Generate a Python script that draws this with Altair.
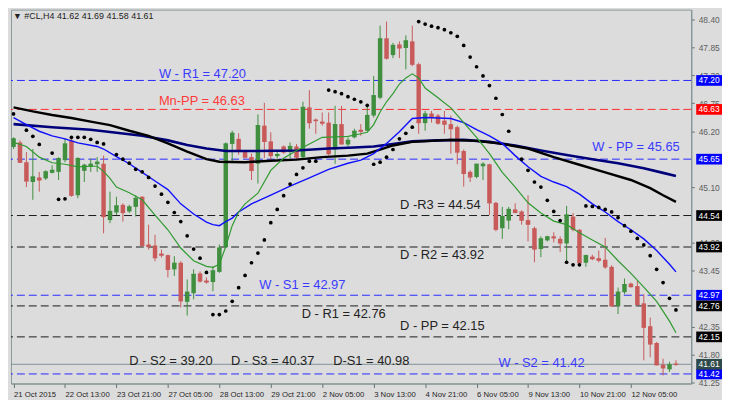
import altair as alt
import pandas as pd

# ---------------- data ----------------
opens = [45.89, 45.98, 45.59, 45.20, 45.29, 45.27, 45.38, 45.40, 45.63, 46.02,
         44.94, 45.42, 45.50, 45.55, 45.56, 44.45, 44.60, 44.75, 44.62, 44.71,
         44.91, 43.97, 43.95, 43.79, 43.76, 43.48, 43.61, 42.84, 43.01, 43.40,
         43.26, 43.23, 43.43, 43.92, 45.95, 46.05, 45.79, 45.69, 45.56, 46.31,
         46.00, 45.71, 45.90, 45.79, 45.90, 45.69, 46.67, 46.43, 46.39, 46.37,
         45.84, 46.34, 45.94, 46.08, 46.23, 46.21, 46.51, 46.86, 48.03, 47.70,
         47.91, 47.84, 47.97, 47.52, 46.36, 46.55, 46.51, 46.41, 46.34, 46.28,
         45.81, 45.40, 45.30, 45.51, 45.55, 44.79, 44.29, 44.44, 44.66, 44.62,
         44.45, 44.29, 43.88, 44.05, 44.13, 44.08, 43.99, 44.52, 44.26, 43.61,
         43.73, 43.70, 43.67, 43.53, 42.76, 43.03, 43.20, 43.15, 42.81, 42.36,
         42.03, 41.60, 41.51, 41.62]
highs = [46.08, 46.02, 45.79, 45.85, 45.40, 45.43, 45.53, 45.69, 46.06, 46.05,
         45.69, 45.56, 45.66, 45.69, 45.72, 45.01, 44.91, 44.78, 44.75, 44.94,
         44.92, 44.36, 44.16, 43.87, 43.77, 43.74, 43.64, 43.28, 43.48, 43.44,
         43.32, 43.54, 43.97, 45.98, 46.21, 46.16, 45.82, 45.76, 46.53, 46.76,
         46.18, 45.82, 45.92, 45.98, 45.95, 46.78, 47.01, 46.45, 46.57, 46.57,
         46.70, 46.70, 46.08, 46.25, 46.34, 46.73, 47.29, 48.28, 48.36, 47.94,
         47.97, 48.09, 48.28, 47.55, 46.60, 46.60, 46.54, 46.60, 46.51, 46.31,
         45.84, 45.43, 45.56, 45.59, 45.56, 44.81, 44.71, 44.71, 44.78, 44.64,
         44.94, 44.32, 44.13, 44.14, 44.21, 44.13, 44.73, 44.59, 44.27, 43.77,
         43.77, 43.85, 44.10, 43.56, 43.12, 43.30, 43.22, 43.25, 42.99, 42.53,
         42.05, 41.72, 41.66, 41.69]
lows = [45.85, 45.58, 45.10, 44.85, 45.01, 45.24, 45.37, 45.24, 45.59, 44.91,
        44.88, 45.20, 45.40, 45.40, 44.19, 44.39, 44.55, 44.42, 44.59, 44.52,
        43.93, 43.87, 43.64, 43.71, 43.32, 43.35, 42.73, 42.57, 42.89, 43.22,
        43.20, 43.05, 43.41, 43.90, 45.57, 45.74, 45.66, 45.24, 45.17, 45.67,
        45.63, 45.66, 45.76, 45.66, 45.63, 45.66, 46.25, 46.15, 46.31, 45.72,
        45.56, 45.94, 45.90, 46.06, 46.11, 46.20, 46.47, 46.83, 47.61, 47.64,
        47.64, 47.42, 47.48, 46.15, 46.21, 46.37, 46.33, 46.15, 45.76, 45.55,
        45.11, 45.20, 45.27, 45.24, 44.55, 44.23, 44.08, 44.27, 44.59, 44.36,
        44.03, 43.62, 43.72, 44.03, 44.01, 43.82, 43.60, 44.23, 43.57, 43.53,
        43.66, 43.62, 43.49, 42.75, 42.60, 42.99, 43.12, 42.77, 41.69, 41.75,
        41.59, 41.39, 41.46, 41.58]
closes = [46.05, 45.59, 45.22, 45.30, 45.24, 45.40, 45.43, 45.66, 45.95, 44.94,
          45.66, 45.53, 45.55, 45.59, 44.52, 44.62, 44.73, 44.60, 44.71, 44.88,
          43.95, 43.93, 43.71, 43.76, 43.48, 43.60, 42.86, 43.03, 43.38, 43.25,
          43.23, 43.45, 43.90, 45.95, 46.16, 45.82, 45.69, 45.43, 46.31, 46.00,
          45.72, 45.74, 45.79, 45.90, 45.69, 46.67, 46.37, 46.41, 46.36, 45.76,
          46.33, 45.95, 46.02, 46.20, 46.20, 46.51, 46.90, 48.02, 47.64, 47.89,
          47.84, 47.98, 47.52, 46.37, 46.54, 46.49, 46.36, 46.34, 46.25, 45.79,
          45.37, 45.30, 45.55, 45.55, 44.79, 44.27, 44.52, 44.66, 44.60, 44.45,
          44.37, 43.88, 44.08, 44.12, 44.10, 44.00, 44.55, 44.27, 43.61, 43.75,
          43.69, 43.66, 43.53, 42.76, 43.03, 43.18, 43.14, 42.79, 42.34, 42.01,
          41.60, 41.54, 41.60, 41.61]

sar_idx = [0, 2, 3, 4, 6, 7, 8, 9, 10, 11, 12, 13, 14, 16, 17, 18, 19, 20, 21, 22,
           23, 24, 25, 26, 27, 28, 29, 30, 31, 32, 33, 34, 35, 36, 37, 38, 39, 40,
           41, 42, 43, 44, 45, 46, 47, 49, 50, 51, 52, 53, 54, 55, 56, 57, 58, 59,
           60, 61, 62, 63, 64, 65, 66, 67, 68, 69, 70, 71, 72, 73, 74, 75, 76, 77,
           79, 80, 81, 82, 83, 84, 85, 86, 87, 88, 89, 90, 91, 92, 93, 94, 95, 96,
           97, 98, 99, 100, 101, 102, 103]
sar_val = [46.54, 46.22, 46.10, 45.94, 45.77, 44.86, 44.87, 46.08, 46.08, 46.08,
           46.04, 45.98, 45.95, 45.74, 45.65, 45.57, 45.45, 45.40, 45.29, 45.12,
           44.96, 44.80, 44.60, 44.42, 44.14, 43.88, 43.70, 43.42, 42.59, 42.59,
           42.66, 42.85, 43.12, 43.36, 43.61, 43.80, 44.06, 44.40, 44.66, 44.93,
           45.16, 45.35, 45.48, 45.61, 45.61, 47.01, 46.98, 46.94, 46.88, 46.83,
           46.78, 46.71, 45.55, 45.59, 45.69, 45.84, 46.05, 46.16, 46.28, 48.36,
           48.31, 48.27, 48.24, 48.20, 48.14, 48.07, 47.89, 47.66, 47.47, 47.29,
           47.10, 46.85, 46.53, 46.20, 45.65, 45.43, 45.20, 45.10, 44.84, 44.62,
           44.44, 43.62, 43.57, 43.57, 44.73, 44.72, 44.70, 44.66, 44.61, 44.50,
           44.34, 44.23, 44.09, 43.96, 43.75, 43.48, 43.22, 42.91, 42.68]

green_idx = [0, 2, 4, 6, 8, 10, 12, 13, 14, 15, 16, 18, 19, 20, 22, 24, 26, 28, 30,
             31, 32, 33, 34, 35, 36, 38, 40, 42, 44, 46, 48, 50, 52, 54, 55, 56, 57,
             58, 59, 60, 61, 62, 63, 64, 66, 68, 70, 72, 74, 76, 78, 80, 82, 84, 86,
             88, 90, 92, 94, 96, 98, 100, 102, 103]
green_val = [45.98, 45.90, 45.69, 45.58, 45.55, 45.50, 45.51, 45.51, 45.41, 45.27,
             45.10, 44.99, 44.92, 44.85, 44.55, 44.26, 43.90, 43.65, 43.54, 43.52,
             43.58, 43.93, 44.34, 44.61, 44.77, 44.98, 45.43, 45.67, 45.82, 45.95,
             46.08, 46.09, 46.10, 46.15, 46.18, 46.33, 46.58, 46.78, 46.94, 47.13,
             47.25, 47.33, 47.25, 47.05, 46.86, 46.66, 46.37, 46.08, 45.76, 45.39,
             45.10, 44.79, 44.59, 44.43, 44.36, 44.20, 44.06, 43.92, 43.65, 43.40,
             43.13, 42.85, 42.46, 42.23]

blue_idx = [0, 2, 4, 6, 8, 10, 13, 14, 16, 18, 20, 22, 24, 26, 28, 30, 31, 32, 33,
            34, 35, 37, 40, 43, 46, 49, 52, 54, 56, 58, 60, 62, 64, 66, 68, 70, 72,
            74, 76, 78, 80, 82, 84, 86, 88, 90, 92, 94, 96, 98, 100, 102, 103]
blue_val = [46.47, 46.33, 46.20, 46.11, 46.05, 45.97, 45.90, 45.85, 45.70, 45.56,
            45.39, 45.22, 45.05, 44.77, 44.57, 44.41, 44.36, 44.34, 44.42, 44.49,
            44.61, 44.77, 44.94, 45.12, 45.28, 45.45, 45.57, 45.63, 45.76, 45.96,
            46.19, 46.45, 46.47, 46.46, 46.45, 46.37, 46.23, 46.11, 45.96, 45.72,
            45.50, 45.31, 45.20, 45.11, 44.96, 44.77, 44.61, 44.42, 44.26, 44.08,
            43.85, 43.58, 43.43]

black_idx = [0, 3, 6, 9, 12, 15, 18, 21, 24, 27, 30, 32, 36, 40, 44, 48, 52, 55,
             57, 59, 62, 65, 68, 72, 76, 80, 84, 88, 92, 96, 99, 101, 103]
black_val = [46.67, 46.59, 46.52, 46.46, 46.39, 46.32, 46.21, 46.11, 45.96, 45.80,
             45.65, 45.60, 45.59, 45.62, 45.64, 45.69, 45.72, 45.76, 45.84, 45.92,
             45.99, 46.01, 46.03, 46.01, 45.95, 45.86, 45.69, 45.54, 45.39, 45.24,
             45.08, 44.94, 44.81]

navy_idx = [0, 6, 12, 16, 20, 24, 27, 30, 33, 38, 44, 49, 53, 56, 59, 62, 66, 70,
            74, 78, 82, 86, 90, 94, 98, 101, 103]
navy_val = [46.34, 46.28, 46.23, 46.17, 46.11, 46.02, 45.93, 45.86, 45.81, 45.81,
            45.82, 45.86, 45.88, 45.90, 45.95, 46.00, 46.02, 46.03, 45.99, 45.92,
            45.82, 45.73, 45.65, 45.57, 45.47, 45.38, 45.32]

level_vals = [47.20, 46.63, 45.65, 44.54, 43.92, 42.97, 42.76, 42.15, 41.42]
level_colors = ["#2828ff", "#ff2a2a", "#2828ff", "#1a1a1a", "#1a1a1a",
                "#2828ff", "#1a1a1a", "#1a1a1a", "#2828ff"]
box_colors = ["#0000ff", "#ff0000", "#0000ff", "#000000", "#000000",
              "#0000ff", "#000000", "#000000", "#0000ff"]
last_price = 41.61

ann_text = ["W - R1 = 47.20", "Mn-PP = 46.63", "W - PP = 45.65", "D -R3 = 44.54",
            "D - R2 = 43.92", "W - S1 = 42.97", "D - R1 = 42.76", "D - PP = 42.15",
            "D - S2 = 39.20", "D - S3 = 40.37", "D-S1 = 40.98", "W - S2 = 41.42"]
ann_idx = [22.6, 22.6, 90.0, 60.1, 60.1, 38.2, 44.8, 60.1, 18.0, 33.8, 49.7, 75.4]
ann_price = [47.25, 46.72, 45.81, 44.66, 43.69, 43.10, 42.53, 42.29, 41.60, 41.60,
             41.60, 41.55]
ann_colors = ["#3a3aff", "#ff3a3a", "#3a3aff", "#222222", "#222222", "#3a3aff",
              "#222222", "#222222", "#222222", "#222222", "#222222", "#3a3aff"]

x_tick_idx = [0, 8, 16, 24, 32, 40, 48, 56, 64, 72, 80, 88, 96]
x_tick_labels = ["21 Oct 2015", "22 Oct 13:00", "23 Oct 21:00", "27 Oct 05:00",
                 "28 Oct 13:00", "29 Oct 21:00", "2 Nov 05:00", "3 Nov 13:00",
                 "4 Nov 21:00", "6 Nov 05:00", "9 Nov 13:00", "10 Nov 21:00",
                 "12 Nov 05:00"]
# price-scale ticks that are not hidden behind the level boxes
y_ticks = [41.25, 41.80, 42.35, 43.45, 44.00, 45.10, 46.20, 46.75, 47.30, 47.85,
           48.40]

title_text = "\u25BC #CL,H4  41.62 41.69 41.58 41.61"

# ---------------- tables ----------------
candles = pd.DataFrame({"i": range(len(opens)), "o": opens, "h": highs,
                        "l": lows, "c": closes})
candles["lo"] = candles[["o", "c"]].min(axis=1)
candles["hi"] = candles[["o", "c"]].max(axis=1)
candles["dir"] = ["up" if c >= o else "down" for o, c in zip(opens, closes)]

sar = pd.DataFrame({"i": sar_idx, "v": sar_val})
ma_green = pd.DataFrame({"i": green_idx, "v": green_val})
ma_blue = pd.DataFrame({"i": blue_idx, "v": blue_val})
ma_black = pd.DataFrame({"i": black_idx, "v": black_val})
ma_navy = pd.DataFrame({"i": navy_idx, "v": navy_val})
levels = pd.DataFrame({"v": level_vals, "col": level_colors, "box": box_colors,
                       "lab": [f"{v:.2f}" for v in level_vals]})
last_df = pd.DataFrame({"v": [last_price], "col": ["#2f4a4a"],
                        "lab": [f"{last_price:.2f}"]})
boxes = pd.concat([levels[["v", "box", "lab"]],
                   last_df.rename(columns={"col": "box"})], ignore_index=True)
ann = pd.DataFrame({"t": ann_text, "i": ann_idx, "v": ann_price, "col": ann_colors})

# ---------------- scales / axes ----------------
W, H = 686, 377
FONT = "Liberation Sans"
xs = alt.Scale(domain=[-0.4, -0.4 + W / 6.485], nice=False, zero=False)
ys = alt.Scale(domain=[41.232, 48.595], nice=False, zero=False)

lab_expr = "[" + ",".join(f"'{s}'" for s in x_tick_labels) + "][round(datum.value / 8)]"
x_axis = alt.Axis(values=x_tick_idx, labelExpr=lab_expr, title=None, grid=False,
                  labelAlign="left", labelBaseline="top", labelPadding=3,
                  labelFontSize=7.8, labelColor="#262626", labelFont=FONT,
                  tickSize=4, tickColor="#607070", domainColor="#7f9090",
                  labelOverlap=False, labelFlush=False)
y_axis = alt.Axis(orient="right", values=y_ticks, format=".2f", title=None,
                  grid=False, labelFontSize=8.5, labelColor="#5e5e5e",
                  labelFont=FONT, tickSize=3, tickColor="#607070",
                  labelPadding=4, domainColor="#7f9090", labelOverlap=False,
                  labelFlush=False)


def X(field="i"):
    return alt.X(f"{field}:Q", scale=xs, axis=x_axis, title=None)


def Y(field):
    return alt.Y(f"{field}:Q", scale=ys, axis=y_axis, title=None)


dir_color = alt.Color("dir:N", legend=None,
                      scale=alt.Scale(domain=["up", "down"],
                                      range=["#006000", "#a81a1f"]))
wick_color = alt.Color("dir:N", legend=None,
                       scale=alt.Scale(domain=["up", "down"],
                                       range=["#3f8f3f", "#c85a5a"]))

# ---------------- layers ----------------
level_lines = alt.Chart(levels).mark_rule(strokeDash=[8, 4], strokeWidth=1).encode(
    y=Y("v"), color=alt.Color("col:N", scale=None))

last_line = alt.Chart(last_df).mark_rule(strokeWidth=1, color="#7d9298").encode(
    y=Y("v"))

wicks = alt.Chart(candles).mark_rule(strokeWidth=1, opacity=1).encode(
    x=X(), y=Y("l"), y2="h:Q", color=wick_color)

bodies = alt.Chart(candles).mark_rule(strokeWidth=4.5, strokeCap="butt",
                                      opacity=1).encode(
    x=X(), y=Y("lo"), y2="hi:Q", color=dir_color)

doji = alt.Chart(candles).mark_tick(orient="horizontal", size=4.5, thickness=1.2,
                                    opacity=1).encode(
    x=X(), y=Y("c"), color=dir_color)


def ma_layer(df, color, width):
    return alt.Chart(df).mark_line(color=color, strokeWidth=width, opacity=1).encode(
        x=X(), y=Y("v"))


navy_line = ma_layer(ma_navy, "#00007a", 2.6)
black_line = ma_layer(ma_black, "#000000", 2.4)
blue_line = ma_layer(ma_blue, "#1010ff", 1.4)
green_line = ma_layer(ma_green, "#2f9a2f", 1.2)

sar_dots = alt.Chart(sar).mark_circle(size=14, color="#000000", opacity=1).encode(
    x=X(), y=Y("v"))

ann_layer = alt.Chart(ann).mark_text(align="left", baseline="alphabetic",
                                     fontSize=13, font=FONT).encode(
    x=X(), y=Y("v"), text="t:N", color=alt.Color("col:N", scale=None))

box_rects = alt.Chart(boxes).mark_rect(opacity=1).transform_calculate(
    top="datum.v + 0.105", bot="datum.v - 0.105").encode(
    x=alt.value(W + 5), x2=alt.value(W + 31),
    y=Y("top"), y2="bot:Q",
    color=alt.Color("box:N", scale=None))

box_text = alt.Chart(boxes).mark_text(fontSize=8.5, font=FONT, color="#ffffff",
                                      align="center", baseline="middle").encode(
    x=alt.value(W + 18), y=Y("v"), text="lab:N")

title = alt.Chart(pd.DataFrame({"t": [title_text]})).mark_text(
    align="left", baseline="top", fontSize=9, font=FONT, color="#222222").encode(
    x=alt.value(2), y=alt.value(2), text="t:N")

chart = alt.layer(
    level_lines, last_line, wicks, bodies, doji,
    navy_line, black_line, blue_line, green_line, sar_dots,
    ann_layer, box_rects, box_text, title
).properties(
    width=W, height=H, padding=0, background="#dcdcdc"
).configure_view(stroke="#8a9a9a", strokeWidth=1)

chart.save("out.html", embed_options={"renderer": "svg", "actions": False})
